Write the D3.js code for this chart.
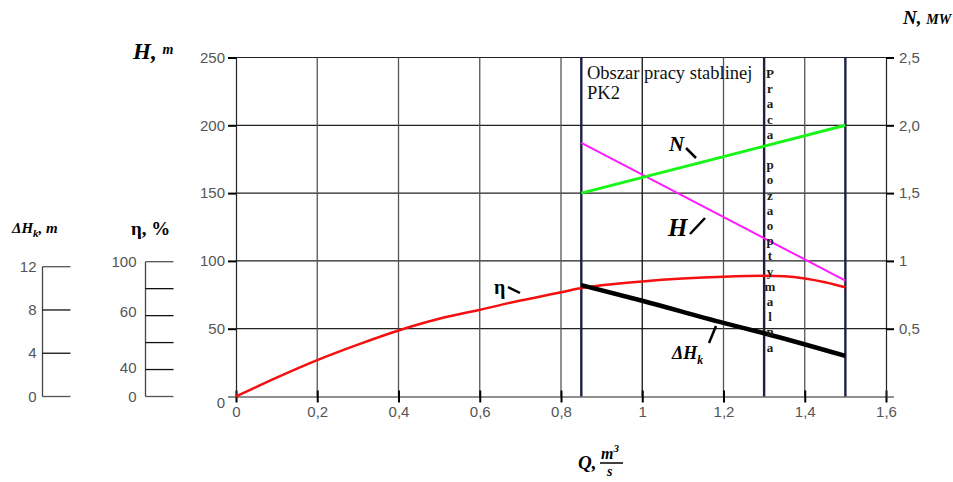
<!DOCTYPE html>
<html>
<head>
<meta charset="utf-8">
<script src="https://cdn.jsdelivr.net/npm/d3@7"></script>
<style>
  body { margin: 0; background: #fff; }
  svg { display: block; }
  .tick text { font-family: "Liberation Sans", sans-serif; font-size: 15px; fill: #555; }
</style>
</head>
<body>
<div id="chart"></div>
<script>
// flow Q, m3/s
const qTicks = [0, 0.2, 0.4, 0.6, 0.8, 1, 1.2, 1.4, 1.6]
const hTicks = [0, 50, 100, 150, 200, 250]
const nTicks = [0.5, 1, 1.5, 2, 2.5]
const nTickLabels = ["0,5", "1", "1,5", "2,0", "2,5"]
const etaTicks = [0, 20, 40, 60, 80, 100]
const etaLabelValues = [0, 21, 63, 100]
const etaLabels = ["0", "40", "60", "100"]
const dhTicks = [0, 4, 8, 12]

// zone boundaries
const zoneLines = [0.85, 1.3, 1.5]

// curves
const etaQ = [0, 0.1, 0.2, 0.3, 0.4, 0.5, 0.6, 0.7, 0.8, 0.85, 0.9, 1.0, 1.1, 1.2, 1.3, 1.35, 1.4, 1.45, 1.5]
const etaVal = [0, 14, 27, 38.5, 49, 57.7, 64.3, 71.2, 77.3, 80.5, 82.5, 85.4, 87.5, 88.9, 89.6, 89.2, 87.6, 84.8, 81]
const headQ = [0.85, 1.5]
const headVal = [187, 85.5]
const powerQ = [0.85, 1.5]
const powerVal = [1.5, 2.0]
const dhQ = [0.85, 1.0, 1.2, 1.3, 1.5]
const dhVal = [10.3, 8.85, 6.8, 5.85, 3.75]

const width = 953, height = 482

const svg = d3.select('#chart')
  .append('svg')
  .attr('width', width)
  .attr('height', height)

const x = d3.scaleLinear().domain([0, 1.6]).range([236, 886])
const y = d3.scaleLinear().domain([0, 250]).range([396.5, 57.5])
const yN = d3.scaleLinear().domain([0, 2.5]).range([396.5, 57.5])
const yEta = d3.scaleLinear().domain([0, 100]).range([396.5, 261.7])
const yDH = d3.scaleLinear().domain([0, 12]).range([396.5, 266.7])

// grid
svg.append('g')
  .selectAll('line')
  .data(hTicks.slice(1))
  .enter()
  .append('line')
  .attr('x1', x(0)).attr('x2', x(1.6))
  .attr('y1', d => y(d)).attr('y2', d => y(d))
  .attr('stroke', '#222').attr('stroke-width', 1.2)

svg.append('g')
  .selectAll('line')
  .data(qTicks.slice(1, -1))
  .enter()
  .append('line')
  .attr('x1', d => x(d)).attr('x2', d => x(d))
  .attr('y1', y(0)).attr('y2', y(250))
  .attr('stroke', d => d == 1 ? '#111' : '#555').attr('stroke-width', 1.3)

// axes
const xAxis = svg.append('g')
  .attr('transform', `translate(0,${y(0)})`)
  .call(d3.axisBottom(x).tickValues(qTicks).tickSize(0).tickPadding(10)
    .tickFormat(d => String(d).replace('.', ',')))
xAxis.select('.domain').attr('stroke', '#222').attr('stroke-width', 1.2)
xAxis.selectAll('.tick').append('line')
  .attr('y1', -6).attr('y2', 6).attr('stroke', '#000').attr('stroke-width', 2)

const hAxis = svg.append('g')
  .attr('transform', `translate(${x(0)},0)`)
  .call(d3.axisLeft(y).tickValues(hTicks).tickSize(8).tickPadding(3))
hAxis.select('.domain').attr('stroke', '#222').attr('stroke-width', 1.2)
hAxis.selectAll('.tick line').attr('stroke', '#000').attr('stroke-width', 2)
hAxis.selectAll('.tick').filter(d => d == 0).select('line').remove()
hAxis.selectAll('.tick').filter(d => d == 0).select('text').attr('x', -11).attr('dy', '0.75em')

const nAxis = svg.append('g')
  .attr('transform', `translate(${x(1.6)},0)`)
  .call(d3.axisRight(yN).tickValues(nTicks).tickSize(8).tickPadding(5)
    .tickFormat((d, i) => nTickLabels[i]))
nAxis.select('.domain').attr('stroke', '#222').attr('stroke-width', 1.2)
nAxis.selectAll('.tick line').attr('stroke', '#000').attr('stroke-width', 2)

// eta axis
const etaAxis = svg.append('g')
  .attr('transform', 'translate(145.5,0)')
etaAxis.append('line')
  .attr('y1', yEta(0)).attr('y2', yEta(100))
  .attr('stroke', '#444').attr('stroke-width', 1.3)
etaAxis.selectAll('.tk')
  .data(etaTicks)
  .enter()
  .append('line')
  .attr('x1', 0).attr('x2', 28)
  .attr('y1', d => yEta(d)).attr('y2', d => yEta(d))
  .attr('stroke', d => d == 0 || d == 100 ? '#555' : '#111').attr('stroke-width', 1.3)
etaAxis.selectAll('text')
  .data(etaLabelValues)
  .enter()
  .append('text')
  .attr('x', -9).attr('y', d => yEta(d))
  .attr('dy', '0.35em').attr('text-anchor', 'end')
  .style('font-family', '"Liberation Sans", sans-serif').style('font-size', '15px').style('fill', '#555')
  .text((d, i) => etaLabels[i])

// delta H axis
const dhAxis = svg.append('g')
  .attr('transform', 'translate(42.5,0)')
dhAxis.append('line')
  .attr('y1', yDH(0)).attr('y2', yDH(12))
  .attr('stroke', '#444').attr('stroke-width', 1.3)
dhAxis.selectAll('.tk')
  .data(dhTicks)
  .enter()
  .append('line')
  .attr('x1', 0).attr('x2', 28)
  .attr('y1', d => yDH(d)).attr('y2', d => yDH(d))
  .attr('stroke', d => d == 0 || d == 12 ? '#555' : '#111').attr('stroke-width', 1.3)
dhAxis.selectAll('text')
  .data(dhTicks)
  .enter()
  .append('text')
  .attr('x', -6).attr('y', d => yDH(d))
  .attr('dy', '0.35em').attr('text-anchor', 'end')
  .style('font-family', '"Liberation Sans", sans-serif').style('font-size', '15px').style('fill', '#555')
  .text(d => d)

// zone lines
svg.append('g')
  .selectAll('line')
  .data(zoneLines)
  .enter()
  .append('line')
  .attr('x1', d => x(d)).attr('x2', d => x(d))
  .attr('y1', y(0)).attr('y2', y(250))
  .attr('stroke', '#1c2045').attr('stroke-width', 2.4)

// curves
const line = (ys) => d3.line().x(d => x(d[0])).y(d => ys(d[1])).curve(d3.curveMonotoneX)

svg.append('path')
  .datum(etaQ.map((q, i) => [q, etaVal[i]]))
  .attr('d', line(yEta))
  .attr('fill', 'none').attr('stroke', '#f41010').attr('stroke-width', 2.5)

svg.append('path')
  .datum(headQ.map((q, i) => [q, headVal[i]]))
  .attr('d', line(y))
  .attr('fill', 'none').attr('stroke', '#ff1aff').attr('stroke-width', 2)

svg.append('path')
  .datum(powerQ.map((q, i) => [q, powerVal[i]]))
  .attr('d', line(yN))
  .attr('fill', 'none').attr('stroke', '#19f419').attr('stroke-width', 3)

svg.append('path')
  .datum(dhQ.map((q, i) => [q, dhVal[i]]))
  .attr('d', line(yDH))
  .attr('fill', 'none').attr('stroke', '#000').attr('stroke-width', 4.5)

// annotations
const serif = '"Liberation Serif", "Times New Roman", serif'

svg.append('text')
  .attr('x', 587).attr('y', 79)
  .style('font-family', serif).style('font-size', '18.5px').style('fill', '#111')
  .text('Obszar pracy stablinej')
svg.append('text')
  .attr('x', 587).attr('y', 99)
  .style('font-family', serif).style('font-size', '18.5px').style('fill', '#111')
  .text('PK2')

const vert = 'Praca pozaoptymalna'.split('')
svg.append('g')
  .selectAll('text')
  .data(vert)
  .enter()
  .append('text')
  .attr('x', 770)
  .attr('y', (d, i) => 78 + i * 15.2)
  .attr('text-anchor', 'middle')
  .style('font-family', serif).style('font-size', '13px').style('font-weight', 'bold').style('fill', '#1a1a10')
  .text(d => d)

function label(tx, ty, txt, size, lx1, ly1, lx2, ly2, sub) {
  const t = svg.append('text')
    .attr('x', tx).attr('y', ty)
    .style('font-family', serif).style('font-size', size + 'px')
    .style('font-weight', 'bold').style('font-style', 'italic').style('fill', '#000')
    .text(txt)
  if (sub) t.append('tspan').attr('dy', 5).style('font-size', (size * 0.65) + 'px').text(sub)
  svg.append('line')
    .attr('x1', lx1).attr('y1', ly1).attr('x2', lx2).attr('y2', ly2)
    .attr('stroke', '#000').attr('stroke-width', 2.5)
}
label(669, 151, 'N', 21, 686, 148, 696, 158)
label(668, 236, 'H', 25, 690, 234, 705, 218)
label(672, 359, 'ΔH', 18, 709, 343, 716, 326, 'k')

svg.append('text')
  .attr('x', 494).attr('y', 294)
  .style('font-family', serif).style('font-size', '20px').style('font-weight', 'bold').style('fill', '#000')
  .text('η')
svg.append('line')
  .attr('x1', 508).attr('y1', 287).attr('x2', 520).attr('y2', 293)
  .attr('stroke', '#000').attr('stroke-width', 2.5)

// axis titles
const title = svg.append('text')
  .attr('x', 133).attr('y', 59)
  .style('font-family', serif).style('font-weight', 'bold').style('font-style', 'italic')
title.append('tspan').style('font-size', '23px').text('H')
title.append('tspan').style('font-size', '23px').text(', ')
title.append('tspan').attr('dy', -5).style('font-size', '14px').text('m')

const nTitle = svg.append('text')
  .attr('x', 903).attr('y', 24)
  .style('font-family', serif).style('font-weight', 'bold').style('font-style', 'italic')
nTitle.append('tspan').style('font-size', '19px').text('N, ')
nTitle.append('tspan').style('font-size', '14px').text('MW')

const dhTitle = svg.append('text')
  .attr('x', 12).attr('y', 233)
  .style('font-family', serif).style('font-weight', 'bold').style('font-style', 'italic')
dhTitle.append('tspan').style('font-size', '15px').text('ΔH')
dhTitle.append('tspan').attr('dy', 4).style('font-size', '11px').text('k')
dhTitle.append('tspan').attr('dy', -4).style('font-size', '15px').text(', m')

svg.append('text')
  .attr('x', 131).attr('y', 235)
  .style('font-family', serif).style('font-weight', 'bold').style('font-size', '19px')
  .text('η, %')

const qTitle = svg.append('g')
qTitle.append('text')
  .attr('x', 578).attr('y', 469)
  .style('font-family', serif).style('font-weight', 'bold').style('font-style', 'italic').style('font-size', '19px')
  .text('Q,')
const frac = qTitle.append('text')
  .attr('x', 601).attr('y', 459)
  .style('font-family', serif).style('font-weight', 'bold').style('font-style', 'italic').style('font-size', '16px')
frac.append('tspan').text('m')
frac.append('tspan').attr('dy', -7).style('font-size', '11px').text('3')
qTitle.append('line')
  .attr('x1', 600).attr('x2', 623).attr('y1', 463).attr('y2', 463)
  .attr('stroke', '#000').attr('stroke-width', 1.5)
qTitle.append('text')
  .attr('x', 607).attr('y', 476)
  .style('font-family', serif).style('font-weight', 'bold').style('font-style', 'italic').style('font-size', '14px')
  .text('s')
</script>
</body>
</html>
